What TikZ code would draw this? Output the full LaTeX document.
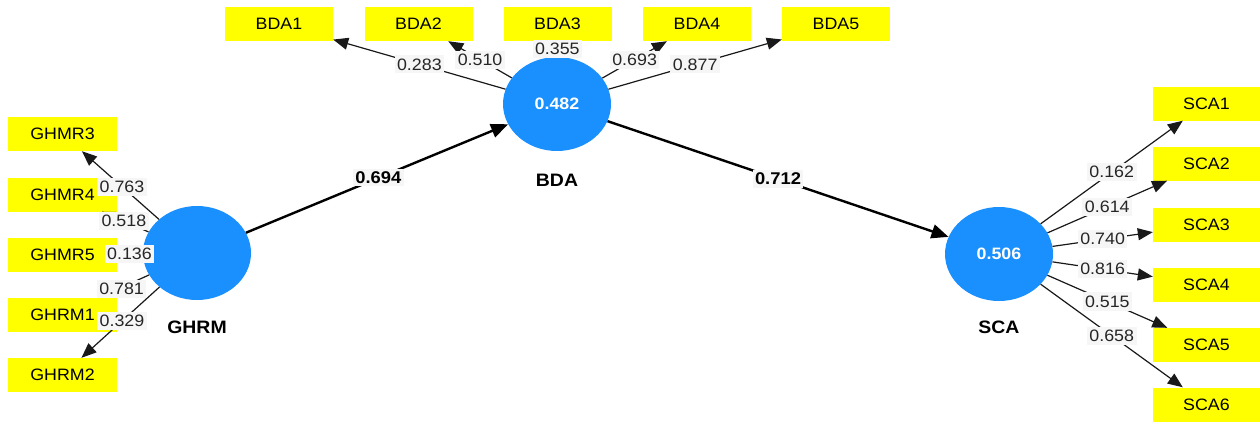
\documentclass[tikz,border=0pt]{standalone}
\usepackage{fontspec}
\setmainfont[FakeStretch=1.08]{Liberation Sans}
\usetikzlibrary{arrows.meta,shapes.geometric}
\definecolor{lvblue}{HTML}{1A90FF}
\definecolor{indyellow}{HTML}{FFFF00}
\definecolor{lblbg}{HTML}{F6F6F6}
\tikzset{
  ind/.style={fill=indyellow, minimum height=34pt, minimum width=108pt, inner sep=0pt,
    font=\fontsize{16.5}{16.5}\selectfont},
  lv/.style={ellipse, fill=lvblue, minimum width=108pt, minimum height=94pt, inner sep=0pt,
    text=white, font=\fontsize{16.5}{16.5}\selectfont\bfseries},
  lvname/.style={font=\fontsize{18}{18}\selectfont\bfseries},
  loadarrow/.style={draw=black!90, line width=1.2pt, -{Triangle[length=15pt,width=12pt]}},
  patharrow/.style={draw=black, line width=2.4pt, -{Triangle[length=17pt,width=14pt]}},
  lbl/.style={fill=lblbg, inner xsep=2.5pt, inner ysep=3.2pt, text=black!85,
    font=\fontsize{16.5}{16.5}\selectfont},
  plbl/.style={fill=lblbg, inner xsep=2.5pt, inner ysep=2.5pt,
    font=\fontsize{17}{17}\selectfont\bfseries}
}
\begin{document}
\begin{tikzpicture}[x=1pt,y=-1pt]
\useasboundingbox (0,0) rectangle (1260,421);
% latent variables
\node[lv] (ghrm) at (197,253) {};
\node[lv] (bda) at (557,104) {0.482};
\node[lv] (sca) at (999,254) {0.506};
\node[lvname] (ghrmname) at (197,327) {GHRM};
\node[lvname] (bdaname) at (557,180) {BDA};
\node[lvname] (scaname) at (999,327) {SCA};
% GHRM indicators
\node[ind, minimum width=109pt] (g3) at (62.5,134) {GHMR3};
\node[ind, minimum width=109pt] (g4) at (62.5,194.5) {GHMR4};
\node[ind, minimum width=109pt] (g5) at (62.5,254.5) {GHMR5};
\node[ind, minimum width=109pt] (g1) at (62.5,314.5) {GHRM1};
\node[ind, minimum width=109pt] (g2) at (62.5,375) {GHRM2};
% BDA indicators
\node[ind] (b1) at (279,24) {BDA1};
\node[ind] (b2) at (418.5,24) {BDA2};
\node[ind] (b3) at (557.5,24) {BDA3};
\node[ind] (b4) at (697,24) {BDA4};
\node[ind] (b5) at (836,24) {BDA5};
% SCA indicators
\node[ind, minimum width=107pt] (s1) at (1206.5,103.5) {SCA1};
\node[ind, minimum width=107pt] (s2) at (1206.5,163.5) {SCA2};
\node[ind, minimum width=107pt] (s3) at (1206.5,224.5) {SCA3};
\node[ind, minimum width=107pt] (s4) at (1206.5,284.5) {SCA4};
\node[ind, minimum width=107pt] (s5) at (1206.5,345) {SCA5};
\node[ind, minimum width=107pt] (s6) at (1206.5,404.5) {SCA6};
% loadings GHRM
\draw[loadarrow] (ghrm) -- coordinate[pos=0.48] (lg3) (g3);
\draw[loadarrow] (ghrm) -- coordinate[pos=0.53] (lg4) (g4);
\draw[loadarrow] (ghrm) -- coordinate[pos=0.52] (lg5) (g5);
\draw[loadarrow] (ghrm) -- coordinate[pos=0.53] (lg1) (g1);
\draw[loadarrow] (ghrm) -- coordinate[pos=0.48] (lg2) (g2);
% loadings BDA
\draw[loadarrow] (bda) -- coordinate[pos=0.5] (lb1) (b1);
\draw[loadarrow] (bda) -- coordinate[pos=0.5] (lb2) (b2);
\draw[loadarrow] (bda) -- coordinate[pos=0.5] (lb3) (b3);
\draw[loadarrow] (bda) -- coordinate[pos=0.5] (lb4) (b4);
\draw[loadarrow] (bda) -- coordinate[pos=0.5] (lb5) (b5);
% loadings SCA
\draw[loadarrow] (sca) -- coordinate[pos=0.5] (ls1) (s1);
\draw[loadarrow] (sca) -- coordinate[pos=0.5] (ls2) (s2);
\draw[loadarrow] (sca) -- coordinate[pos=0.5] (ls3) (s3);
\draw[loadarrow] (sca) -- coordinate[pos=0.5] (ls4) (s4);
\draw[loadarrow] (sca) -- coordinate[pos=0.5] (ls5) (s5);
\draw[loadarrow] (sca) -- coordinate[pos=0.5] (ls6) (s6);
% structural paths
\draw[patharrow] (ghrm) -- coordinate[pos=0.505] (lp1) (bda);
\draw[patharrow] (bda) -- coordinate[pos=0.5] (lp2) (sca);
% labels on top
\node[lbl] (tg3) at (lg3) {0.763};
\node[lbl] (tg4) at (lg4) {0.518};
\node[lbl] (tg5) at (lg5) {0.136};
\node[lbl, xshift=-1.5pt, yshift=-2pt] (tg1) at (lg1) {0.781};
\node[lbl] (tg2) at (lg2) {0.329};
\node[lbl] (tb1) at (lb1) {0.283};
\node[lbl] (tb2) at (lb2) {0.510};
\node[lbl] (tb3) at (lb3) {0.355};
\node[lbl] (tb4) at (lb4) {0.693};
\node[lbl] (tb5) at (lb5) {0.877};
\node[lbl] (ts1) at (ls1) {0.162};
\node[lbl] (ts2) at (ls2) {0.614};
\node[lbl] (ts3) at (ls3) {0.740};
\node[lbl] (ts4) at (ls4) {0.816};
\node[lbl] (ts5) at (ls5) {0.515};
\node[lbl] (ts6) at (ls6) {0.658};
\node[plbl] (tp1) at (lp1) {0.694};
\node[plbl] (tp2) at (lp2) {0.712};
\end{tikzpicture}
\end{document}
